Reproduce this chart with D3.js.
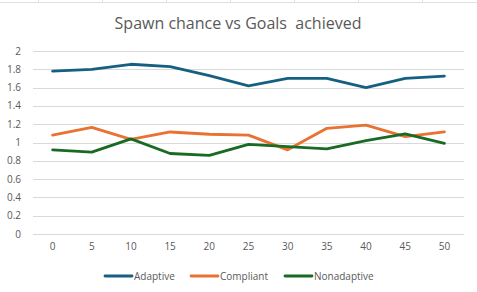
<!DOCTYPE html>
<html>
<head>
<meta charset="utf-8">
<script src="https://cdn.jsdelivr.net/npm/d3@7"></script>
<style>
  body { margin: 0; background: #fff; }
  text { font-family: "Open Sans", "Liberation Sans", sans-serif; fill: #595959; }
</style>
</head>
<body>
<svg width="477" height="292"></svg>
<script>
// spawn chance categories
var spawn = [0, 5, 10, 15, 20, 25, 30, 35, 40, 45, 50];
var adaptive = [1.78, 1.80, 1.855, 1.83, 1.73, 1.62, 1.70, 1.70, 1.60, 1.70, 1.725];
var compliant = [1.08, 1.165, 1.035, 1.115, 1.09, 1.08, 0.92, 1.155, 1.19, 1.065, 1.115];
var nonadaptive = [0.92, 0.895, 1.04, 0.88, 0.86, 0.98, 0.955, 0.93, 1.02, 1.095, 0.99];
var yTicks = [0, 0.2, 0.4, 0.6, 0.8, 1, 1.2, 1.4, 1.6, 1.8, 2];

var series = [
  { name: 'Adaptive', values: adaptive, color: '#156082' },
  { name: 'Compliant', values: compliant, color: '#E97132' },
  { name: 'Nonadaptive', values: nonadaptive, color: '#196B24' }
];

var svg = d3.select('svg');

// spreadsheet cell border peeking in at the top
svg.append('line').attr('x1', 0).attr('x2', 477).attr('y1', 2.5).attr('y2', 2.5)
  .attr('stroke', '#e0e0e0');
[38, 102, 166, 230, 294, 358, 422].forEach(function (x) {
  svg.append('line').attr('x1', x + 0.5).attr('x2', x + 0.5).attr('y1', 0).attr('y2', 2)
    .attr('stroke', '#e0e0e0');
});

var x = d3.scaleBand().domain(spawn).range([33, 464]);
var y = d3.scaleLinear().domain([0, 2]).range([234, 51]);

svg.append('text')
  .attr('x', 238).attr('y', 29)
  .attr('text-anchor', 'middle')
  .style('font-size', '16px')
  .style('white-space', 'pre')
  .text('Spawn chance vs Goals  achieved');

// gridlines
svg.append('g').selectAll('line')
  .data(yTicks)
  .enter()
  .append('line')
  .attr('x1', 33).attr('x2', 464)
  .attr('y1', function (d) { return Math.round(y(d)) + 0.5; })
  .attr('y2', function (d) { return Math.round(y(d)) + 0.5; })
  .attr('stroke', '#d9d9d9');

// y labels
svg.append('g').selectAll('text')
  .data(yTicks)
  .enter()
  .append('text')
  .attr('x', 21)
  .attr('y', function (d) { return y(d) + 3.5; })
  .attr('text-anchor', 'end')
  .style('font-size', '10px')
  .text(function (d) { return d; });

// x labels
svg.append('g').selectAll('text')
  .data(spawn)
  .enter()
  .append('text')
  .attr('x', function (d) { return x(d) + x.bandwidth() / 2; })
  .attr('y', 250)
  .attr('text-anchor', 'middle')
  .style('font-size', '10px')
  .text(function (d) { return d; });

var line = d3.line()
  .x(function (d, i) { return x(spawn[i]) + x.bandwidth() / 2; })
  .y(function (d) { return y(d); });

svg.append('g').selectAll('path')
  .data(series)
  .enter()
  .append('path')
  .attr('d', function (d) { return line(d.values); })
  .attr('fill', 'none')
  .attr('stroke', function (d) { return d.color; })
  .attr('stroke-width', 2.8)
  .attr('stroke-linejoin', 'round')
  .attr('stroke-linecap', 'round');

// legend
var legendX = [105, 191, 285];
var leg = svg.append('g').selectAll('g')
  .data(series)
  .enter()
  .append('g')
  .attr('transform', function (d, i) { return 'translate(' + legendX[i] + ',276)'; });
leg.append('line')
  .attr('x1', 0).attr('x2', 27)
  .attr('stroke', function (d) { return d.color; })
  .attr('stroke-width', 2.8)
  .attr('stroke-linecap', 'round');
leg.append('text')
  .attr('x', 29).attr('y', 3.5)
  .style('font-size', '10px')
  .text(function (d) { return d.name; });
</script>
</body>
</html>
